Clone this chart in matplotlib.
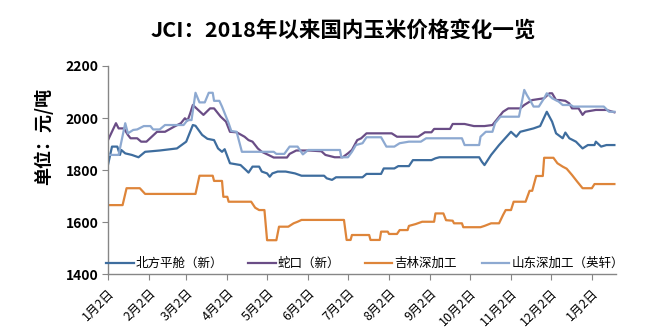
import matplotlib
matplotlib.use('Agg')
import matplotlib.pyplot as plt
import matplotlib.dates as mdates
import pandas as pd

plt.rcParams['font.family'] = ['Noto Sans CJK SC', 'DejaVu Sans']

# 北方平舱（新）
north_dates = ['2018-01-02', '2018-01-05', '2018-01-09', '2018-01-11', '2018-01-12', '2018-01-15',
               '2018-01-20', '2018-01-25', '2018-01-30', '2018-02-10', '2018-02-23', '2018-03-02',
               '2018-03-07', '2018-03-09', '2018-03-14', '2018-03-18', '2018-03-23', '2018-03-26',
               '2018-03-29', '2018-03-31', '2018-04-04', '2018-04-12', '2018-04-16', '2018-04-18',
               '2018-04-21', '2018-04-26', '2018-04-28', '2018-05-02', '2018-05-04', '2018-05-06',
               '2018-05-10', '2018-05-16', '2018-05-23', '2018-05-28', '2018-06-14', '2018-06-16',
               '2018-06-20', '2018-06-23', '2018-07-13', '2018-07-16', '2018-07-27', '2018-07-29',
               '2018-08-06', '2018-08-09', '2018-08-17', '2018-08-20', '2018-09-03', '2018-09-06',
               '2018-09-09', '2018-10-09', '2018-10-11', '2018-10-13', '2018-10-18', '2018-10-24',
               '2018-11-02', '2018-11-06', '2018-11-09', '2018-11-19', '2018-11-24', '2018-11-29',
               '2018-12-03', '2018-12-06', '2018-12-11', '2018-12-13', '2018-12-16', '2018-12-21',
               '2018-12-26', '2018-12-30', '2019-01-04', '2019-01-05', '2019-01-09', '2019-01-13',
               '2019-01-19']
north_vals = [1820, 1890, 1890, 1858, 1877, 1864,
              1858, 1849, 1870, 1875, 1883, 1909,
              1973, 1970, 1935, 1920, 1915, 1883,
              1870, 1880, 1826, 1819, 1800, 1790,
              1813, 1813, 1794, 1787, 1774, 1787,
              1794, 1794, 1787, 1778, 1778, 1768,
              1762, 1772, 1772, 1785, 1785, 1806,
              1806, 1815, 1815, 1838, 1838, 1845,
              1849, 1849, 1832, 1819, 1858, 1896,
              1947, 1928, 1947, 1960, 1969, 2024,
              1986, 1941, 1922, 1944, 1922, 1909,
              1883, 1896, 1896, 1909, 1890, 1896,
              1896]

# 蛇口（新）
shekou_dates = ['2018-01-02', '2018-01-08', '2018-01-10', '2018-01-14', '2018-01-17', '2018-01-19',
                '2018-01-24', '2018-01-27', '2018-01-31', '2018-02-08', '2018-02-14', '2018-02-21',
                '2018-02-26', '2018-03-01', '2018-03-03', '2018-03-05', '2018-03-07', '2018-03-15',
                '2018-03-20', '2018-03-23', '2018-03-28', '2018-04-01', '2018-04-04', '2018-04-09',
                '2018-04-15', '2018-04-18', '2018-04-21', '2018-04-25', '2018-04-28', '2018-05-03',
                '2018-05-07', '2018-05-17', '2018-05-19', '2018-05-24', '2018-06-03', '2018-06-12',
                '2018-06-15', '2018-06-22', '2018-06-28', '2018-07-02', '2018-07-05', '2018-07-09',
                '2018-07-12', '2018-07-16', '2018-08-04', '2018-08-08', '2018-08-24', '2018-08-29',
                '2018-09-03', '2018-09-05', '2018-09-17', '2018-09-19', '2018-09-28', '2018-10-05',
                '2018-10-13', '2018-10-19', '2018-10-22', '2018-10-27', '2018-10-31', '2018-11-09',
                '2018-11-12', '2018-11-18', '2018-11-27', '2018-12-01', '2018-12-03', '2018-12-06',
                '2018-12-09', '2018-12-13', '2018-12-16', '2018-12-18', '2018-12-23', '2018-12-26',
                '2018-12-28', '2019-01-05', '2019-01-13', '2019-01-19']
shekou_vals = [1915, 1980, 1960, 1960, 1935, 1922,
               1922, 1909, 1909, 1947, 1947, 1967,
               1980, 1999, 1990, 2018, 2050, 2012,
               2037, 2037, 2005, 1986, 1947, 1945,
               1928, 1915, 1909, 1883, 1870, 1858,
               1848, 1848, 1862, 1875, 1875, 1872,
               1858, 1849, 1849, 1864, 1877, 1915,
               1922, 1941, 1941, 1928, 1928, 1945,
               1945, 1958, 1958, 1977, 1977, 1969,
               1969, 1973, 1992, 2024, 2037, 2037,
               2050, 2069, 2076, 2095, 2095, 2069,
               2069, 2066, 2056, 2037, 2037, 2012,
               2024, 2031, 2031, 2022]

# 吉林深加工
jilin_dates = ['2018-01-02', '2018-01-13', '2018-01-16', '2018-01-26', '2018-01-30', '2018-03-09',
               '2018-03-12', '2018-03-22', '2018-03-23', '2018-03-29', '2018-03-30', '2018-04-02',
               '2018-04-03', '2018-04-20', '2018-04-23', '2018-04-26', '2018-04-30', '2018-05-02',
               '2018-05-09', '2018-05-11', '2018-05-18', '2018-05-22', '2018-05-25', '2018-05-28',
               '2018-06-29', '2018-07-01', '2018-07-04', '2018-07-05', '2018-07-18', '2018-07-19',
               '2018-07-26', '2018-07-27', '2018-08-01', '2018-08-02', '2018-08-08', '2018-08-10',
               '2018-08-16', '2018-08-17', '2018-08-22', '2018-08-27', '2018-09-05', '2018-09-06',
               '2018-09-12', '2018-09-14', '2018-09-19', '2018-09-20', '2018-09-26', '2018-09-27',
               '2018-10-10', '2018-10-13', '2018-10-18', '2018-10-24', '2018-10-27', '2018-10-29',
               '2018-11-02', '2018-11-04', '2018-11-13', '2018-11-16', '2018-11-18', '2018-11-21',
               '2018-11-26', '2018-11-27', '2018-12-04', '2018-12-07', '2018-12-11', '2018-12-14',
               '2018-12-18', '2018-12-22', '2018-12-26', '2019-01-02', '2019-01-04', '2019-01-19']
jilin_vals = [1665, 1665, 1730, 1730, 1708, 1708,
              1778, 1778, 1758, 1758, 1697, 1697,
              1678, 1678, 1655, 1646, 1646, 1530,
              1530, 1582, 1582, 1595, 1601, 1608,
              1608, 1531, 1531, 1550, 1550, 1531,
              1531, 1563, 1563, 1554, 1554, 1569,
              1569, 1585, 1592, 1601, 1601, 1633,
              1633, 1607, 1605, 1595, 1595, 1580,
              1580, 1585, 1595, 1595, 1627, 1646,
              1646, 1678, 1678, 1720, 1720, 1777,
              1777, 1847, 1847, 1826, 1813, 1805,
              1781, 1755, 1730, 1730, 1746, 1746]

# 山东深加工（英轩）
shandong_dates = ['2018-01-02', '2018-01-10', '2018-01-15', '2018-01-17', '2018-01-21', '2018-01-24',
                  '2018-01-29', '2018-02-03', '2018-02-05', '2018-02-10', '2018-02-14', '2018-02-28',
                  '2018-03-03', '2018-03-06', '2018-03-09', '2018-03-12', '2018-03-16', '2018-03-19',
                  '2018-03-22', '2018-03-23', '2018-03-27', '2018-03-29', '2018-04-03', '2018-04-05',
                  '2018-04-09', '2018-04-13', '2018-05-07', '2018-05-09', '2018-05-15', '2018-05-19',
                  '2018-05-25', '2018-05-29', '2018-06-02', '2018-06-26', '2018-06-27', '2018-07-02',
                  '2018-07-05', '2018-07-08', '2018-07-13', '2018-07-16', '2018-07-27', '2018-07-31',
                  '2018-08-06', '2018-08-10', '2018-08-17', '2018-08-26', '2018-08-30', '2018-09-26',
                  '2018-09-28', '2018-10-09', '2018-10-10', '2018-10-14', '2018-10-19', '2018-10-21',
                  '2018-10-25', '2018-11-08', '2018-11-12', '2018-11-14', '2018-11-17', '2018-11-19',
                  '2018-11-23', '2018-11-27', '2018-11-29', '2018-12-03', '2018-12-08', '2018-12-11',
                  '2018-12-17', '2018-12-19', '2018-12-24', '2019-01-11', '2019-01-15', '2019-01-19']
shandong_vals = [1858, 1858, 1980, 1941, 1954, 1956,
                 1969, 1969, 1956, 1956, 1973, 1973,
                 1992, 1992, 2097, 2060, 2060, 2097,
                 2097, 2066, 2066, 2044, 1980, 1950,
                 1947, 1870, 1870, 1862, 1862, 1890,
                 1890, 1860, 1877, 1877, 1849, 1849,
                 1870, 1896, 1903, 1926, 1926, 1890,
                 1890, 1903, 1909, 1909, 1922, 1922,
                 1896, 1896, 1928, 1947, 1947, 1980,
                 2005, 2005, 2108, 2088, 2063, 2044,
                 2044, 2076, 2095, 2076, 2063, 2050,
                 2050, 2044, 2044, 2044, 2024, 2024]

series = [
    ('北方平舱（新）', north_dates, north_vals, '#3E6D9E'),
    ('蛇口（新）', shekou_dates, shekou_vals, '#6A4D86'),
    ('吉林深加工', jilin_dates, jilin_vals, '#DE853A'),
    ('山东深加工（英轩）', shandong_dates, shandong_vals, '#8DA9D1'),
]

fig = plt.figure(figsize=(6.61, 3.34), dpi=100)
ax = fig.add_axes([0.1634, 0.1796, 0.7681, 0.6228])

for name, d, v, c in series:
    ax.plot(pd.to_datetime(d), v, color=c, lw=1.6, label=name)

ax.set_ylim(1400, 2200)
ax.set_yticks([1400, 1600, 1800, 2000, 2200])
ax.set_xlim(pd.Timestamp('2018-01-02'), pd.Timestamp('2019-01-20'))
ax.xaxis.set_major_locator(mdates.MonthLocator(bymonthday=2))
ax.xaxis.set_major_formatter(plt.FuncFormatter(
    lambda x, pos: '{}月{}日'.format(mdates.num2date(x).month, mdates.num2date(x).day)))

for s in ['top', 'right']:
    ax.spines[s].set_visible(False)
for s in ['left', 'bottom']:
    ax.spines[s].set_color('#868686')
    ax.spines[s].set_linewidth(1.0)

ax.tick_params(axis='x', direction='out', length=4, color='#868686', labelsize=9, pad=5)
ax.tick_params(axis='y', direction='out', length=4, color='#868686', labelsize=10, pad=3)
for lab in ax.get_yticklabels():
    lab.set_fontweight('bold')
for lab in ax.get_xticklabels():
    lab.set_rotation(45)
    lab.set_ha('right')
    lab.set_rotation_mode('anchor')

fig.text(0.065, 0.59, '单位：元/吨', rotation=90, fontsize=13, fontweight='bold',
         ha='center', va='center')
fig.text(0.519, 0.91, 'JCI：2018年以来国内玉米价格变化一览', fontsize=15.5, fontweight='bold',
         ha='center', va='center')

ax.legend(loc='center', bbox_to_anchor=(0.506, 0.05), ncol=4, frameon=False,
          fontsize=9, handlelength=2.2, handletextpad=0.15, columnspacing=2.0)

fig.savefig('out.png', dpi=100)
